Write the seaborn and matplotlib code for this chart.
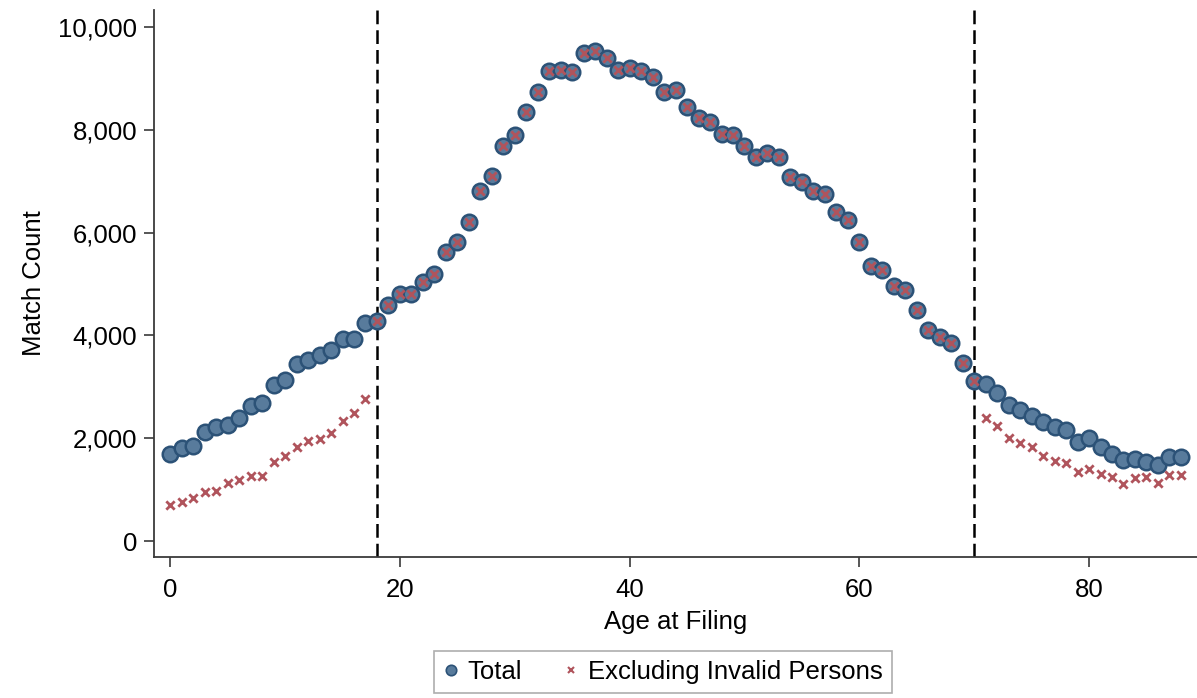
import numpy as np
import pandas as pd
import matplotlib
matplotlib.use("Agg")
import matplotlib.pyplot as plt
from matplotlib.lines import Line2D
from matplotlib.ticker import FuncFormatter
import seaborn as sns

# Match counts by age at filing (0-88)
ages = list(range(0, 89))

total = [1700, 1810, 1850, 2120, 2220, 2260, 2390, 2630, 2680, 3030,
         3130, 3440, 3520, 3620, 3720, 3930, 3930, 4240, 4280, 4600,
         4800, 4800, 5030, 5190, 5630, 5820, 6210, 6810, 7100, 7680,
         7890, 8340, 8730, 9140, 9160, 9120, 9490, 9540, 9400, 9170,
         9210, 9140, 9030, 8740, 8770, 8440, 8220, 8160, 7920, 7890,
         7680, 7470, 7550, 7480, 7080, 6980, 6800, 6750, 6400, 6250,
         5820, 5350, 5280, 4960, 4890, 4490, 4100, 3960, 3850, 3470,
         3110, 3050, 2880, 2650, 2550, 2430, 2320, 2220, 2160, 1920,
         2000, 1830, 1690, 1580, 1600, 1530, 1470, 1640, 1640]

excl_young = [700, 760, 840, 950, 970, 1130, 1190, 1260, 1260, 1530,
              1650, 1820, 1950, 1990, 2110, 2330, 2500, 2760]
excl_old = [2390, 2240, 2000, 1910, 1820, 1650, 1560, 1510, 1350,
            1410, 1300, 1250, 1110, 1220, 1240, 1130, 1280, 1280]
# Between the cutoffs no invalid persons are excluded
excluding = excl_young + total[18:71] + excl_old

cutoffs = [18, 70]
series_names = ["Total", "Excluding Invalid Persons"]

df_total = pd.DataFrame({"age": ages, "count": total})
df_excl = pd.DataFrame({"age": ages, "count": excluding})

sns.set_theme(style="white")
plt.rcParams["font.family"] = ["Liberation Sans", "DejaVu Sans"]
plt.rcParams["text.color"] = "black"

fig = plt.figure(figsize=(11.97, 6.98), dpi=100)
ax = fig.add_axes([153.7 / 1197, 1 - 557 / 698, (1197 - 153.7) / 1197, (557 - 10) / 698])

blue_face = "#587b9c"
blue_edge = "#2c5277"
red = "#b0545c"

sns.scatterplot(data=df_total, x="age", y="count", ax=ax, marker="o", s=125,
                color=blue_face, edgecolor=blue_edge, linewidth=1.8, zorder=3,
                legend=False)
sns.scatterplot(data=df_excl, x="age", y="count", ax=ax, marker="x", s=36,
                color=red, linewidth=2.0, zorder=4, legend=False)

for c in cutoffs:
    ax.axvline(c, color="black", linewidth=1.8, dashes=(5.5, 2.4), zorder=2)

ax.set_xlim(-1.44, 89.4)
ax.set_ylim(-311, 10330)
ax.set_xticks([0, 20, 40, 60, 80])
ax.set_yticks([0, 2000, 4000, 6000, 8000, 10000])
ax.yaxis.set_major_formatter(FuncFormatter(lambda v, p: f"{int(v):,}"))

for side in ["top", "right"]:
    ax.spines[side].set_visible(False)
for side in ["left", "bottom"]:
    ax.spines[side].set_color("#3a3a3a")
    ax.spines[side].set_linewidth(1.3)

ax.tick_params(axis="both", which="major", direction="out", length=7, width=1.2,
               color="#3a3a3a", labelsize=18.5, labelcolor="black",
               left=True, bottom=True)
ax.tick_params(axis="x", pad=8)
ax.tick_params(axis="y", pad=5)

ax.set_xlabel("Age at Filing", fontsize=18.5, color="black", labelpad=6)
ax.set_ylabel("Match Count", fontsize=18.5, color="black", labelpad=9)

handles = [
    Line2D([], [], linestyle="none", marker="o", markersize=7.5,
           markerfacecolor=blue_face, markeredgecolor=blue_edge, markeredgewidth=1.2),
    Line2D([], [], linestyle="none", marker="x", markersize=5,
           color=red, markeredgewidth=1.5),
]
leg = fig.legend(handles, series_names, loc="center", ncol=2,
                 bbox_to_anchor=(663 / 1197, 1 - 672 / 698),
                 fontsize=18.5, frameon=True, fancybox=False,
                 handlelength=0.6, handletextpad=0.35, columnspacing=1.6,
                 borderpad=0.35)
leg.get_frame().set_edgecolor("#9a9a9a")
leg.get_frame().set_linewidth(1.2)
for t in leg.get_texts():
    t.set_color("black")

fig.savefig("out.png", dpi=100)
